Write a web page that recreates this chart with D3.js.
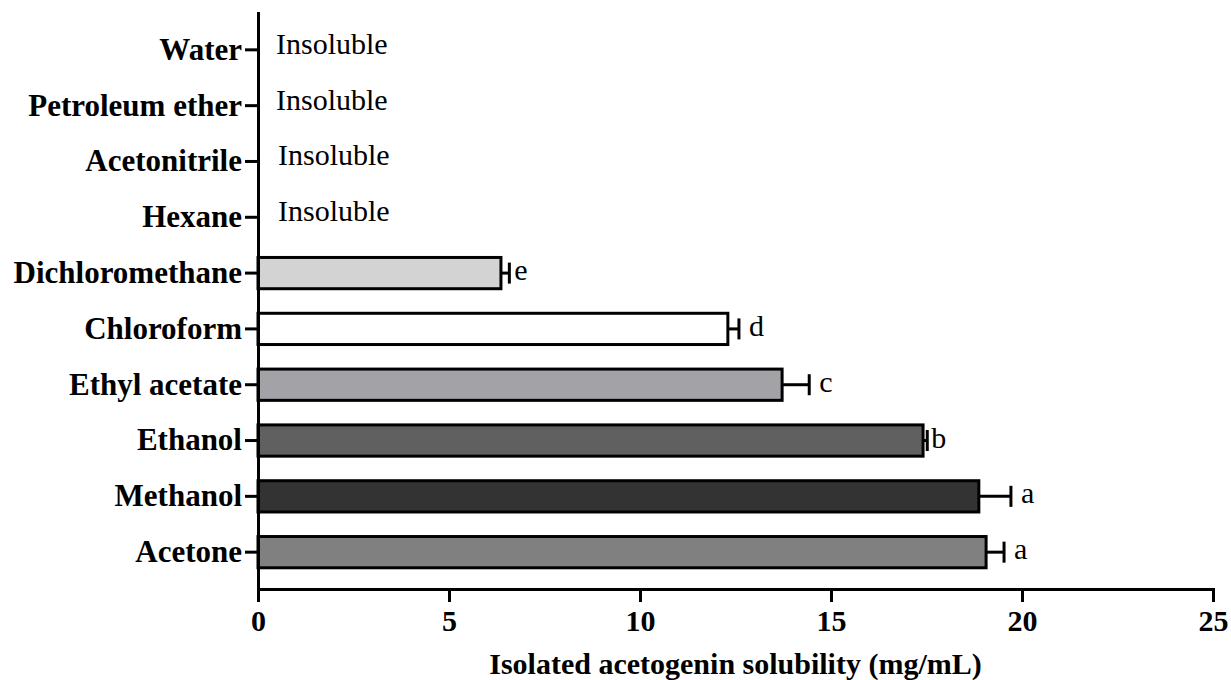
<!DOCTYPE html>
<html>
<head>
<meta charset="utf-8">
<script src="https://cdn.jsdelivr.net/npm/d3@7/dist/d3.min.js"></script>
<style>
  html, body { margin: 0; padding: 0; background: #fff; }
  svg { display: block; }
</style>
</head>
<body>
<svg id="chart" width="1231" height="680"></svg>
<script>
// ---- data ----
const categories = ["Water", "Petroleum ether", "Acetonitrile", "Hexane", "Dichloromethane",
                    "Chloroform", "Ethyl acetate", "Ethanol", "Methanol", "Acetone"];
const values  = [null, null, null, null, 6.36, 12.30, 13.72, 17.41, 18.87, 19.06];
const errors  = [null, null, null, null, 0.22, 0.29, 0.71, 0.11, 0.84, 0.47];
const letters = ["", "", "", "", "e", "d", "c", "b", "a", "a"];
const notes   = ["Insoluble", "Insoluble", "Insoluble", "Insoluble", "", "", "", "", "", ""];
const fills   = ["#fff", "#fff", "#fff", "#fff", "#d3d3d3", "#ffffff", "#a3a2a7", "#606060", "#333333", "#808080"];
const xTicks  = [0, 5, 10, 15, 20, 25];
const xTitle  = "Isolated acetogenin solubility (mg/mL)";

const FONT = "'Liberation Serif', Tinos, 'Times New Roman', Times, 'DejaVu Serif', serif";

const svg = d3.select("#chart");
const x = d3.scaleLinear().domain([0, 25]).range([258, 1213]);
const y = d3.scaleBand().domain(categories).range([13, 589]).paddingInner(0).paddingOuter(0.16);
const barH = y.bandwidth() * 0.56;

const rows = categories.map((c, i) => ({c, v: values[i], e: errors[i], l: letters[i], n: notes[i], f: fills[i]}));

// bars
svg.append("g").selectAll("rect").data(rows.filter(d => d.v != null)).join("rect")
  .attr("x", x(0))
  .attr("y", d => y(d.c) + y.bandwidth() / 2 - barH / 2)
  .attr("width", d => x(d.v) - x(0))
  .attr("height", barH)
  .attr("fill", d => d.f)
  .attr("stroke", "#000")
  .attr("stroke-width", 3);

// error bars
const eb = svg.append("g").selectAll("g").data(rows.filter(d => d.v != null)).join("g");
eb.append("line")
  .attr("x1", d => x(d.v)).attr("x2", d => x(d.v + d.e))
  .attr("y1", d => y(d.c) + y.bandwidth() / 2).attr("y2", d => y(d.c) + y.bandwidth() / 2)
  .attr("stroke", "#000").attr("stroke-width", 3);
eb.append("line")
  .attr("x1", d => x(d.v + d.e)).attr("x2", d => x(d.v + d.e))
  .attr("y1", d => y(d.c) + y.bandwidth() / 2 - 10.5).attr("y2", d => y(d.c) + y.bandwidth() / 2 + 10.5)
  .attr("stroke", "#000").attr("stroke-width", 3);
eb.append("text")
  .attr("x", d => x(d.v + d.e) + (d.l === "b" ? 4 : d.l === "e" ? 5 : 10))
  .attr("y", d => y(d.c) + y.bandwidth() / 2 + 7)
  .style("font-family", FONT)
  .style("font-size", "30px")
  .text(d => d.l);

// insoluble notes
svg.append("g").selectAll("text").data(rows.filter(d => d.n)).join("text")
  .attr("x", (d, i) => i < 2 ? 276 : 278)
  .attr("y", d => y(d.c) + y.bandwidth() / 2 + 4)
  .style("font-family", FONT)
  .style("font-size", "30px")
  .text(d => d.n);

// axes
const yAxis = svg.append("g").attr("transform", `translate(${x(0)},0)`)
  .call(d3.axisLeft(y).tickSize(13).tickSizeOuter(0).tickPadding(3));
const xAxis = svg.append("g").attr("transform", `translate(0,${y.range()[1]})`)
  .call(d3.axisBottom(x).tickValues(xTicks).tickSize(13).tickSizeOuter(0).tickPadding(8));

[yAxis, xAxis].forEach(g => {
  g.attr("font-family", null).attr("font-size", null);
  g.select(".domain").attr("stroke", "#000").attr("stroke-width", 3).attr("stroke-linecap", "square");
  g.selectAll(".tick line").attr("stroke", "#000").attr("stroke-width", 3);
  g.selectAll(".tick text")
    .attr("fill", "#000")
    .style("font-family", FONT)
    .style("font-weight", "bold")
    .style("font-size", "30px");
});
yAxis.selectAll(".tick text").attr("dy", "0.32em").style("font-size", "31px");
xAxis.selectAll(".tick text").attr("dy", "0.71em");

svg.append("text")
  .attr("x", (x.range()[0] + x.range()[1]) / 2)
  .attr("y", 674)
  .attr("text-anchor", "middle")
  .style("font-family", FONT)
  .style("font-weight", "bold")
  .style("font-size", "30px")
  .text(xTitle);
</script>
</body>
</html>
